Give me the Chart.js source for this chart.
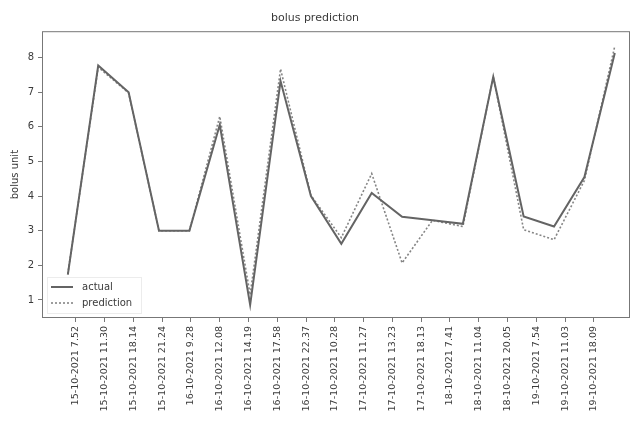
<!DOCTYPE html>
<html>
<head>
<meta charset="utf-8">
<script src="https://cdn.jsdelivr.net/npm/chart.js@4"></script>
<style>
  html, body { margin: 0; padding: 0; background: #fff; }
  #wrap { width: 631px; height: 428px; }
</style>
</head>
<body>
<div id="wrap"><canvas id="bolusChart"></canvas></div>
<script>
// time labels under the x axis
const timeLabels = [
  '15-10-2021 7.52', '15-10-2021 11.30', '15-10-2021 18.14', '15-10-2021 21.24',
  '16-10-2021 9.28', '16-10-2021 12.08', '16-10-2021 14.19', '16-10-2021 17.58',
  '16-10-2021 22.37', '17-10-2021 10.28', '17-10-2021 11.27', '17-10-2021 13.23',
  '17-10-2021 18.13', '18-10-2021 7.41', '18-10-2021 11.04', '18-10-2021 20.05',
  '19-10-2021 7.54', '19-10-2021 11.03', '19-10-2021 18.09'
];

const actualValues = [1.73, 7.77, 7.0, 3.0, 3.0, 6.06, 0.86, 7.32, 4.0, 2.62,
  4.09, 3.4, 3.3, 3.2, 7.44, 3.41, 3.12, 4.55, 8.13];
const predictionValues = [1.75, 7.72, 6.98, 3.0, 3.0, 6.3, 1.15, 7.67, 4.02, 2.8,
  4.65, 2.07, 3.3, 3.12, 7.45, 3.03, 2.74, 4.45, 8.33];

const yTicks = [1, 2, 3, 4, 5, 6, 7, 8];

// tick marks in the original don't sit exactly on the points
const TICK_START = 0.263;
const TICK_STEP = 0.947;

const FONT = 'DejaVu Sans';
const TEXT = '#3a3a3a';

function toPoints(vals) {
  return vals.map((v, i) => ({ x: i, y: v }));
}

// frame around the plot + legend in lower left corner
const framePlugin = {
  id: 'frameAndLegend',
  afterDraw(chart) {
    const { ctx, chartArea: a } = chart;
    ctx.save();
    ctx.strokeStyle = '#777';
    ctx.lineWidth = 1;
    ctx.strokeRect(a.left + 0.5, a.top + 0.5, a.right - a.left - 1, a.bottom - a.top - 1);

    const lx = a.left + 5, ly = a.bottom - 41;
    ctx.strokeStyle = '#ececec';
    ctx.strokeRect(lx + 0.5, ly + 0.5, 94, 36);

    ctx.font = '10px ' + FONT;
    ctx.fillStyle = TEXT;
    ctx.textBaseline = 'middle';
    chart.data.datasets.forEach((ds, i) => {
      const y = ly + 10 + i * 16;
      ctx.strokeStyle = ds.borderColor;
      ctx.lineWidth = ds.borderWidth;
      ctx.setLineDash(ds.borderDash || []);
      ctx.beginPath();
      ctx.moveTo(lx + 4, y);
      ctx.lineTo(lx + 26, y);
      ctx.stroke();
      ctx.setLineDash([]);
      ctx.fillText(ds.label, lx + 35, y);
    });
    ctx.restore();
  }
};

new Chart(document.getElementById('bolusChart'), {
  type: 'line',
  data: {
    datasets: [
      {
        label: 'actual',
        data: toPoints(actualValues),
        borderColor: '#646464',
        borderWidth: 2,
        pointRadius: 0,
        tension: 0
      },
      {
        label: 'prediction',
        data: toPoints(predictionValues),
        borderColor: '#858585',
        borderWidth: 1.6,
        borderDash: [2, 2],
        pointRadius: 0,
        tension: 0
      }
    ]
  },
  options: {
    responsive: true,
    maintainAspectRatio: false,
    animation: false,
    layout: { padding: { top: 1, right: 1, left: 0, bottom: 0 } },
    plugins: {
      legend: { display: false },
      tooltip: { enabled: false },
      title: {
        display: true,
        text: 'bolus prediction',
        color: TEXT,
        font: { family: FONT, size: 11, weight: 'normal' },
        padding: { top: 11, bottom: 6 }
      }
    },
    scales: {
      x: {
        type: 'linear',
        min: -0.85,
        max: 18.5,
        border: { display: false },
        grid: { drawOnChartArea: false, tickLength: 4, color: '#777' },
        afterBuildTicks(axis) {
          axis.ticks = timeLabels.map((_, i) => ({ value: TICK_START + i * TICK_STEP }));
        },
        ticks: {
          autoSkip: false,
          minRotation: 90,
          maxRotation: 90,
          color: TEXT,
          padding: 4,
          font: { family: FONT, size: 9.5 },
          callback: (val, idx) => timeLabels[idx]
        },
        afterFit(axis) { axis.height = 110; }
      },
      y: {
        min: 0.48,
        max: 8.76,
        border: { display: false },
        grid: { drawOnChartArea: false, tickLength: 4, color: '#777' },
        afterBuildTicks(axis) {
          axis.ticks = yTicks.map(v => ({ value: v }));
        },
        ticks: {
          color: TEXT,
          padding: 4,
          font: { family: FONT, size: 10 }
        },
        title: {
          display: true,
          text: 'bolus unit',
          color: TEXT,
          font: { family: FONT, size: 10 },
          padding: { top: 9, bottom: 0 }
        },
        afterFit(axis) { axis.width = 42; }
      }
    }
  },
  plugins: [framePlugin]
});
</script>
</body>
</html>
